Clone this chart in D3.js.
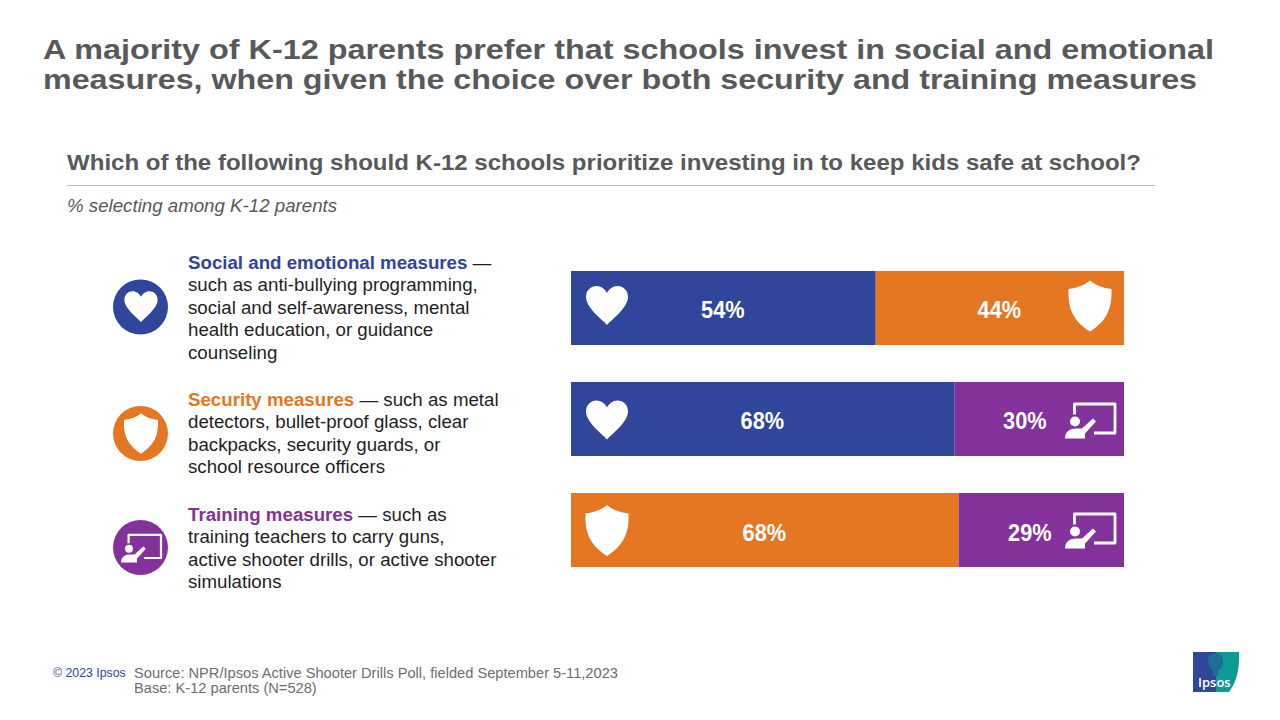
<!DOCTYPE html>
<html><head><meta charset="utf-8">
<script src="https://cdn.jsdelivr.net/npm/d3@7"></script>
<style>html,body{margin:0;padding:0;background:#fff}svg{display:block}text{font-family:"Liberation Sans",Arial,sans-serif}</style>
</head><body><svg id="c" width="1280" height="720"></svg>
<script>
const categories = ["Social vs security","Social vs training","Security vs training"];
const firstValues = [54,68,68];
const secondValues = [44,30,29];
const firstKinds = ["social","social","security"];
const secondKinds = ["security","training","training"];
const titleLines = ["A majority of K-12 parents prefer that schools invest in social and emotional","measures, when given the choice over both security and training measures"];
const question = "Which of the following should K-12 schools prioritize investing in to keep kids safe at school?";
const subtitle = "% selecting among K-12 parents";
const legendHeads = ["Social and emotional measures","Security measures","Training measures"];
const legendLines = [
 [" —","such as anti-bullying programming,","social and self-awareness, mental","health education, or guidance","counseling"],
 [" — such as metal","detectors, bullet-proof glass, clear","backpacks, security guards, or","school resource officers"],
 [" — such as","training teachers to carry guns,","active shooter drills, or active shooter","simulations"]];
const legendKinds = ["social","security","training"];
const sourceLines = ["Source: NPR/Ipsos Active Shooter Drills Poll, fielded September 5-11,2023","Base: K-12 parents (N=528)"];
const colors = {social:"#30469b",security:"#e67722",training:"#84329b"};

const svg = d3.select("#c");
const GREY="#58595b";
const heart="M0,19 C-3,15 -21,2 -21,-9 C-21,-16 -16,-20 -10.5,-20 C-6,-20 -2,-17 0,-13 C2,-17 6,-20 10.5,-20 C16,-20 21,-16 21,-9 C21,2 3,15 0,19 Z";
const shield="M0,-25.5 C5,-21 13,-18 21.5,-17 C22,-2 20,13 0,25.5 C-20,13 -22,-2 -21.5,-17 C-13,-18 -5,-21 0,-25.5 Z";
function drawIcon(g,kind,s){
  const n=g.append("g").attr("transform",`scale(${s})`);
  if(kind==="social") n.append("path").attr("d",heart).attr("fill","#fff");
  else if(kind==="security") n.append("path").attr("d",shield).attr("fill","#fff");
  else {
    n.append("path").attr("d","M-15.5,-6 V-16.5 H25 V12.5 H4").attr("fill","none").attr("stroke","#fff").attr("stroke-width",2.8).attr("stroke-linejoin","round");
    n.append("circle").attr("cx",-15).attr("cy",1).attr("r",5).attr("fill","#fff");
    n.append("path").attr("d","M-25,18 C-25,11 -20,8 -14,8 L-8,8 L3,-2 L6,1 L-5,13 V18 Z").attr("fill","#fff");
  }
}
// titles
svg.append("g").selectAll("text").data(titleLines).join("text")
  .attr("x",43).attr("y",(d,i)=>59+i*30).attr("font-size",28).attr("font-weight",700).attr("fill",GREY)
  .attr("textLength",(d,i)=>[1171,1154][i]).attr("lengthAdjust","spacingAndGlyphs").text(d=>d);
svg.append("text").attr("x",67).attr("y",170).attr("font-size",22).attr("font-weight",700).attr("fill",GREY)
  .attr("textLength",1074).attr("lengthAdjust","spacingAndGlyphs").text(question);
svg.append("line").attr("x1",67).attr("x2",1155).attr("y1",185.5).attr("y2",185.5).attr("stroke","#bfbfbf");
svg.append("text").attr("x",67).attr("y",212).attr("font-size",18.7).attr("font-style","italic").attr("fill",GREY).text(subtitle);

// bars
const x=d3.scaleLinear().domain([0,1]).range([571,1124]);
const y=d3.scaleBand().domain(categories).range([271,567]).paddingInner(1/3).paddingOuter(0);
const rows=categories.map((c,i)=>({c,a:firstValues[i],b:secondValues[i],i}));
const stack=d3.stack().keys(["a","b"]).offset(d3.stackOffsetExpand)(rows);
const iconShift=[-2,1.5,0.5];
const labelDy=[10,10,11];
const band=svg.append("g");
stack.forEach((s,k)=>{
  const kindOf=d=>k===0?firstKinds[d.data.i]:secondKinds[d.data.i];
  band.append("g").selectAll("rect").data(s).join("rect")
    .attr("x",d=>x(d[0])).attr("width",d=>x(d[1])-x(d[0]))
    .attr("y",d=>y(d.data.c)).attr("height",y.bandwidth())
    .attr("fill",d=>colors[kindOf(d)]);
  band.append("g").selectAll("text").data(s).join("text")
    .attr("x",d=>(x(d[0])+x(d[1]))/2+(kindOf(d)==="training"?(d.data.i===1?-14:-11):0)-0.5)
    .attr("y",d=>y(d.data.c)+y.bandwidth()/2+labelDy[d.data.i])
    .attr("text-anchor","middle").attr("font-size",23).attr("font-weight",700).attr("fill","#fff")
    .attr("textLength",43.5).attr("lengthAdjust","spacingAndGlyphs")
    .text(d=>d.data[k===0?"a":"b"]+"%");
  s.forEach(d=>{
    const kind=kindOf(d);
    const cx=k===0?607:1090;
    const cy=y(d.data.c)+y.bandwidth()/2+iconShift[d.data.i];
    drawIcon(band.append("g").attr("transform",`translate(${cx},${cy})`),kind,1);
  });
});

// legend
const legTop=[268.5,405.5,520.5], circY=[307,433.5,547.5];
legendKinds.forEach((kind,i)=>{
  svg.append("circle").attr("cx",140.5).attr("cy",circY[i]).attr("r",27.5).attr("fill",colors[kind]);
  drawIcon(svg.append("g").attr("transform",`translate(141,${circY[i]+(kind==="training"?0.5:0)})`),kind,kind==="training"?0.8:0.79);
  const t=svg.append("g");
  const first=t.append("text").attr("x",188).attr("y",legTop[i]).attr("font-size",18.7).attr("fill","#1f1f1f");
  first.append("tspan").attr("font-weight",700).attr("fill",colors[kind]).text(legendHeads[i]);
  first.append("tspan").text(legendLines[i][0]);
  t.selectAll("text.l").data(legendLines[i].slice(1)).join("text").attr("class","l")
    .attr("x",188).attr("y",(d,j)=>legTop[i]+(j+1)*22.6).attr("font-size",18.7).attr("fill","#1f1f1f").text(d=>d);
});

// footer
svg.append("text").attr("x",53).attr("y",677).attr("font-size",12.3).attr("fill","#30469b").text("© 2023 Ipsos");
svg.append("g").selectAll("text").data(sourceLines).join("text")
  .attr("x",134).attr("y",(d,i)=>678+i*15).attr("font-size",14.65).attr("fill","#6d6e71").text(d=>d);

// logo
const logo=svg.append("g").attr("transform","translate(1193,652)");
logo.append("path").attr("d","M23,0 H46 C47,14 44,30 36,40 H23 Z").attr("fill","#0d9b93");
logo.append("rect").attr("width",23).attr("height",40).attr("fill","#30469b");
logo.append("path").attr("d","M17,3 C22,-1 29,1 30,8 C31,13 28,18 25,19 V24 H20 V19 C16,17 13,8 17,3 Z").attr("fill","#1b6f93");
logo.append("text").attr("x",5).attr("y",35).attr("font-size",13).attr("font-weight",600).attr("fill","#fff").attr("style","font-family:'Open Sans'").text("Ipsos");
</script></body></html>
